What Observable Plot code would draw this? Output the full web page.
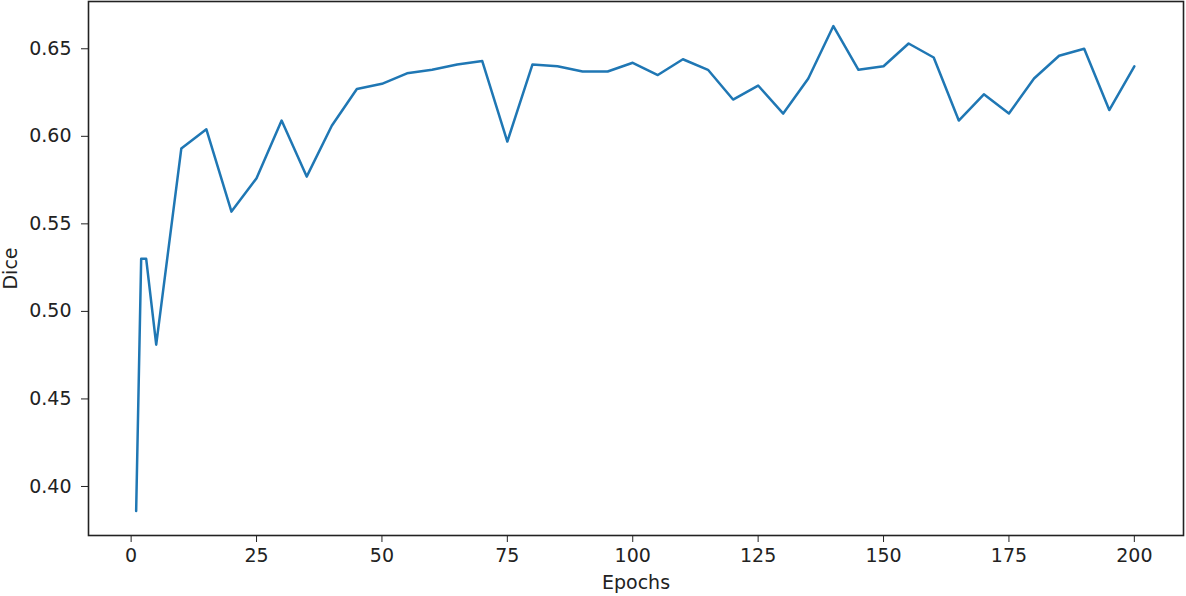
<!DOCTYPE html>
<html>
<head>
<meta charset="utf-8">
<script src="https://cdn.jsdelivr.net/npm/d3@7"></script>
<script src="https://cdn.jsdelivr.net/npm/@observablehq/plot@0.6"></script>
<style>
  html, body { margin: 0; padding: 0; background: #fff; }
  #chart svg { display: block; }
</style>
</head>
<body>
<div id="chart"></div>
<script>
const epochs = [1, 2, 3, 5, 10, 15, 20, 25, 30, 35, 40, 45, 50, 55, 60, 65, 70, 75, 80, 85, 90, 95, 100,
  105, 110, 115, 120, 125, 130, 135, 140, 145, 150, 155, 160, 165, 170, 175, 180, 185, 190, 195, 200];
const dice = [0.386, 0.530, 0.530, 0.481, 0.593, 0.604, 0.557, 0.576, 0.609, 0.577, 0.606, 0.627, 0.630,
  0.636, 0.638, 0.641, 0.643, 0.597, 0.641, 0.640, 0.637, 0.637, 0.642,
  0.635, 0.644, 0.638, 0.621, 0.629, 0.613, 0.633, 0.663, 0.638, 0.640, 0.653, 0.645,
  0.609, 0.624, 0.613, 0.633, 0.646, 0.650, 0.615, 0.640];
const xTicks = [0, 25, 50, 75, 100, 125, 150, 175, 200];
const yTicks = [0.40, 0.45, 0.50, 0.55, 0.60, 0.65];

const data = epochs.map((e, i) => ({epoch: e, dice: dice[i]}));

const ink = "#222";
const chart = Plot.plot({
  width: 1186,
  height: 596,
  marginLeft: 88,
  marginRight: 3,
  marginTop: 1,
  marginBottom: 61,
  style: {fontFamily: "DejaVu Sans", fontSize: "19px", color: ink, background: "#fff"},
  x: {domain: [-8.5, 209.8]},
  y: {domain: [0.372, 0.677]},
  marks: [
    Plot.axisX({ticks: xTicks, tickSize: 7, tickPadding: 6, label: null, stroke: ink, fill: ink, fontSize: 19}),
    Plot.axisY({ticks: yTicks, tickSize: 7, tickPadding: 10, tickFormat: d3.format(".2f"), label: null, stroke: ink, fill: ink, fontSize: 19}),
    Plot.line(data, {x: "epoch", y: "dice", stroke: "#1f77b4", strokeWidth: 2.5}),
    Plot.frame({stroke: ink, strokeWidth: 1.6}),
    Plot.text(["Epochs"], {frameAnchor: "bottom", lineAnchor: "top", dy: 40, fill: ink, fontSize: 19}),
    Plot.text(["Dice"], {frameAnchor: "left", rotate: -90, lineAnchor: "middle", textAnchor: "middle", dx: -78, fill: ink, fontSize: 19})
  ]
});
document.getElementById("chart").appendChild(chart);
</script>
</body>
</html>
